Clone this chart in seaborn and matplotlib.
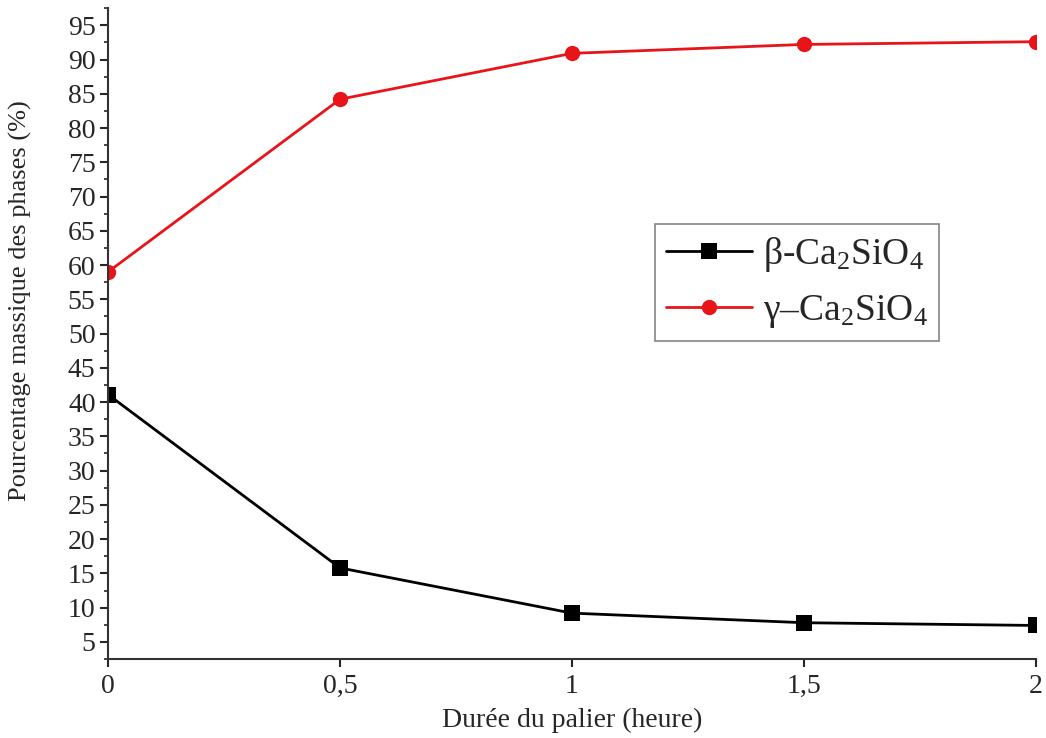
import matplotlib
matplotlib.use("Agg")
import matplotlib.pyplot as plt
import pandas as pd
import seaborn as sns
from matplotlib.ticker import MultipleLocator, FuncFormatter

duree = [0, 0.5, 1, 1.5, 2]
beta = [41.1, 15.8, 9.2, 7.8, 7.4]
gamma = [59.0, 84.2, 90.9, 92.2, 92.6]
labels = ["β-Ca$_2$SiO$_4$", "γ–Ca$_2$SiO$_4$"]

sns.set_style("ticks")
plt.rcParams["font.family"] = ["Liberation Serif", "DejaVu Serif"]
plt.rcParams["mathtext.fontset"] = "custom"
plt.rcParams["mathtext.rm"] = "Liberation Serif"
plt.rcParams["mathtext.it"] = "Liberation Serif:italic"

df = pd.DataFrame({
    "duree": duree * 2,
    "val": beta + gamma,
    "phase": [labels[0]] * len(duree) + [labels[1]] * len(duree),
})

fig = plt.figure(figsize=(10.46, 7.38), dpi=100)
ax = fig.add_axes([0.1033, 0.107, 0.8871, 0.882])

sns.lineplot(data=df, x="duree", y="val", hue="phase", style="phase",
             palette=["black", "#e8141a"], markers=["s", "o"], dashes=False,
             markersize=11, linewidth=2, markeredgewidth=0, ax=ax)

ax.set_xlim(0, 2)
ax.set_ylim(2.5, 97.5)
ax.xaxis.set_major_locator(MultipleLocator(0.5))
ax.yaxis.set_major_locator(MultipleLocator(5))
ax.yaxis.set_minor_locator(MultipleLocator(2.5))
ax.xaxis.set_major_formatter(FuncFormatter(lambda v, p: f"{v:g}".replace(".", ",")))
ax.tick_params(axis="both", which="major", labelsize=20, length=6, width=1.5, pad=3)
ax.tick_params(axis="x", which="major", pad=5)
ax.tick_params(axis="y", which="minor", length=3, width=1.2)
for s in ["top", "right"]:
    ax.spines[s].set_visible(False)
for s in ["left", "bottom"]:
    ax.spines[s].set_linewidth(1.5)
    ax.spines[s].set_color("#333333")

ax.set_xlabel("Durée du palier (heure)", fontsize=20, labelpad=6)
ax.set_ylabel("Pourcentage massique des phases (%)", fontsize=19)
ax.yaxis.set_label_coords(-0.082, 0.55)

leg = ax.legend(loc="upper left", bbox_to_anchor=(0.589, 0.668), borderaxespad=0,
                fontsize=27, frameon=True, fancybox=False, edgecolor="#666666",
                handlelength=2.3, handletextpad=0.3, borderpad=0.3,
                labelspacing=0.5, title=None)
leg.get_frame().set_linewidth(1.2)

fig.savefig("out.png", dpi=100)
